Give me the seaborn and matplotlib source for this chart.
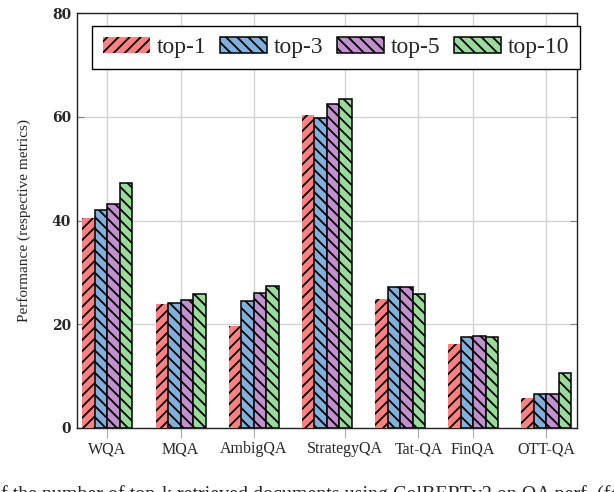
import pandas as pd
import numpy as np
import matplotlib.pyplot as plt
import matplotlib.patches as mpatches
import seaborn as sns

sns.set_style("white")
plt.rcParams['font.family'] = ['Liberation Serif', 'DejaVu Serif']
plt.rcParams['hatch.linewidth'] = 1.3

# data
datasets = ["WQA", "MQA", "AmbigQA", "StrategyQA", "Tat-QA", "FinQA", "OTT-QA"]
series = ["top-1", "top-3", "top-5", "top-10"]
top1 = [40.4, 23.8, 19.6, 60.4, 24.8, 16.1, 5.8]
top3 = [42.0, 24.1, 24.5, 59.9, 27.2, 17.5, 6.4]
top5 = [43.1, 24.6, 26.0, 62.6, 27.2, 17.7, 6.4]
top10 = [47.3, 25.8, 27.4, 63.4, 25.8, 17.4, 10.5]

colors = ["#ff8080", "#80b1dd", "#c290cf", "#99dc99"]
hatches = ["///", "\\\\\\", "\\\\\\", "\\\\\\"]

df = pd.DataFrame({
    "dataset": datasets * 4,
    "k": np.repeat(series, len(datasets)),
    "score": top1 + top3 + top5 + top10,
})

fig = plt.figure(figsize=(6.14, 4.92), dpi=100)
ax = fig.add_axes([0.125, 0.131, 0.815, 0.8416])

sns.barplot(data=df, x="dataset", y="score", hue="k", order=datasets,
            hue_order=series, palette=colors, width=0.683, saturation=1,
            errorbar=None, legend=False, ax=ax, zorder=3)

for i, cont in enumerate(ax.containers):
    for bar in cont:
        bar.set_hatch(hatches[i])
        bar.set_edgecolor("black")
        bar.set_linewidth(0 if i == 0 else 1.1)

ax.set_ylim(0, 80)
ax.set_xlim(-0.42, 6.42)
ax.set_yticks([0, 20, 40, 60, 80])
ax.set_yticklabels(["0", "20", "40", "60", "80"], family="DejaVu Serif",
                   fontweight="bold", fontsize=10)
# tick positions as in the original (not evenly spaced)
ax.set_xticks([0, 1, 2, 3.25, 4.25, 5, 6])
ax.set_xticklabels(datasets, fontsize=11.5)
ax.set_xlabel("")
ax.set_ylabel("Performance (respective metrics)", fontsize=11)
ax.yaxis.set_label_coords(-0.091, 0.5)

ax.grid(True, color="#d3d3d3", linewidth=1.0, zorder=0)
ax.set_axisbelow(True)
ax.tick_params(axis="y", direction="in", length=5, color="#888888",
               left=True, right=True, pad=4)
ax.tick_params(axis="x", direction="out", length=7, color="#aaaaaa",
               bottom=True, pad=3)
for sp in ax.spines.values():
    sp.set_color("#222222")
    sp.set_linewidth(1.0)

handles = [mpatches.Patch(facecolor=colors[i], edgecolor="black",
                          linewidth=0 if i == 0 else 1.1, hatch=hatches[i])
           for i in range(4)]
leg = ax.legend(handles, series, ncol=4, loc="upper left",
                bbox_to_anchor=(0.031, 0.970), borderaxespad=0,
                fontsize=17, handlelength=2.0, handleheight=0.7,
                handletextpad=0.3, columnspacing=0.55, borderpad=0.45,
                fancybox=False, framealpha=1, edgecolor="black")
leg.get_frame().set_linewidth(1.0)

# caption line of the paper, cut off at the bottom edge as in the original
fig.text(-0.015, -0.0165,
         "of the number of top-k retrieved documents using ColBERTv2 on QA perf. (for each",
         fontsize=14.4, va="baseline", ha="left")

fig.savefig("out.png", dpi=100)
